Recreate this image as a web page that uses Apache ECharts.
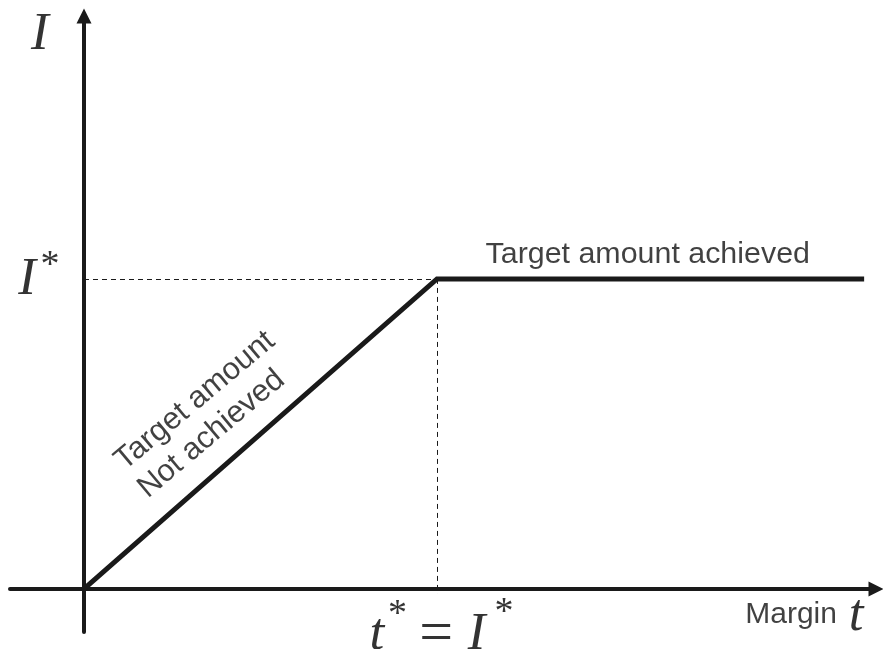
<!DOCTYPE html>
<html>
<head>
<meta charset="utf-8">
<title>Target amount vs margin</title>
<script src="https://cdn.jsdelivr.net/npm/echarts@6/dist/echarts.min.js"></script>
<style>
  html, body { margin: 0; padding: 0; background: #fff; }
  #main { width: 883px; height: 649px; }
</style>
</head>
<body>
<div id="main"></div>
<script>
// piecewise amount I as a function of the margin t
const marginT = [0, 1, 2.21];
const amountI = [0, 1, 1];
// threshold where the target amount is reached
const tStar = 1;
const iStar = 1;

const ink = '#1a1a1a';
const serif = { fontFamily: 'Liberation Serif', fontStyle: 'italic', fontSize: 53, color: '#000' };
const star = { fontFamily: 'Liberation Serif', fontSize: 38, color: '#000' };
const sans = { fontFamily: 'Liberation Sans', fontSize: 30, color: '#111' };

// a text placed at a data point (no visible symbol)
function note(x, y, text, style, extra) {
  return {
    value: [x, y],
    label: Object.assign({ show: true, position: 'inside', formatter: text }, style, extra || {})
  };
}

let myChart = echarts.init(document.getElementById('main'));

let option = {
  animation: false,
  backgroundColor: '#fff',
  grid: { left: 10, right: 7, top: 16, bottom: 17 },
  xAxis: {
    type: 'value',
    min: -0.2096,
    max: 2.2436,
    axisLine: {
      onZero: true,
      symbol: ['none', 'triangle'],
      symbolSize: [15, 15],
      lineStyle: { color: ink, width: 4 }
    },
    axisTick: { show: false },
    axisLabel: { show: false },
    splitLine: { show: false }
  },
  yAxis: {
    type: 'value',
    min: -0.1387,
    max: 1.848,
    axisLine: {
      onZero: true,
      symbol: ['none', 'triangle'],
      symbolSize: [15, 15],
      lineStyle: { color: ink, width: 4 }
    },
    axisTick: { show: false },
    axisLabel: { show: false },
    splitLine: { show: false }
  },
  series: [
    {
      name: 'I(t)',
      type: 'line',
      data: marginT.map((t, i) => [t, amountI[i]]),
      symbol: 'none',
      z: 5,
      lineStyle: { color: ink, width: 5, join: 'miter' },
      markLine: {
        silent: true,
        symbol: 'none',
        label: { show: false },
        lineStyle: { color: ink, width: 1, type: [5, 4] },
        data: [
          [{ coord: [0, iStar] }, { coord: [tStar, iStar] }],
          [{ coord: [tStar, iStar] }, { coord: [tStar, -0.016] }]
        ]
      }
    },
    {
      name: 'labels',
      type: 'scatter',
      silent: true,
      symbolSize: 0.1,
      itemStyle: { color: 'rgba(0,0,0,0)' },
      z: 6,
      data: [
        note(-0.125, 1.785, 'I', serif),
        note(-0.161, 0.997, 'I', serif),
        note(-0.096, 1.041, '*', star),
        // bottom formula sits below the axis range, so its labels are pushed down
        note(0.830, -0.13, 't', serif, { offset: [0, 6] }),
        note(0.888, -0.084, '*', star),
        note(0.998, -0.13, '=', Object.assign({}, serif, { fontStyle: 'normal', fontSize: 60 }), { offset: [0, 6] }),
        note(1.112, -0.13, 'I', serif, { offset: [0, 6] }),
        note(1.19, -0.079, '*', star),
        note(2.003, -0.083, 'Margin', sans),
        note(2.187, -0.087, 't', serif),
        note(1.597, 1.079, 'Target amount achieved', Object.assign({}, sans, { fontSize: 30.4 })),
        note(0.132, 0.357, 'Target amount\nNot achieved', Object.assign({}, sans, { fontSize: 31 }),
          { align: 'left', verticalAlign: 'middle', lineHeight: 36, rotate: 40 })
      ]
    }
  ]
};

myChart.setOption(option);
</script>
</body>
</html>
